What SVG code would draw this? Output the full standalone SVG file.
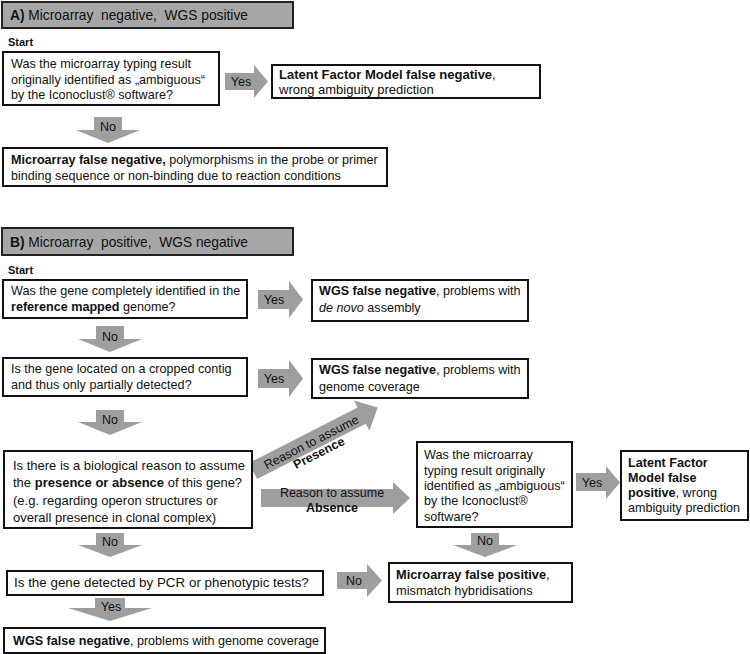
<svg xmlns="http://www.w3.org/2000/svg" width="750" height="654" viewBox="0 0 750 654">
<style>
.bg{fill:#fff}
.box{fill:#fff;stroke:#111;stroke-width:2}
.hdr{fill:#a6a6a6;stroke:#222;stroke-width:2}
.arr{fill:#9e9e9e}
text{font-family:"Liberation Sans",Arial,sans-serif;font-size:12.6px;fill:#111}
.h{font-size:15px;white-space:pre}
.s{font-size:11px;font-weight:bold}
.l{font-size:12.5px}
.m{font-size:13px}
.lg{font-size:13.4px}
.f{font-size:12.8px}
.c{text-anchor:middle}
.b{font-weight:bold}
</style>
<rect class="bg" x="0" y="0" width="750" height="654"/>

<g id="connectors">
  <path class="arr" d="M225,73H254V65L268,81.5L254,98V90H225Z"/>
  <path class="arr" d="M94,117H122V130H140L108,143L76,130H94Z"/>
  <path class="arr" d="M258,290H289V281L303,299.5L289,318V309H258Z"/>
  <path class="arr" d="M96,326H124V339H142L110,352L78,339H96Z"/>
  <path class="arr" d="M258,369H289V360L303,378.5L289,397V388H258Z"/>
  <path class="arr" d="M96,410H124V422H142L110,435L78,422H96Z"/>
  <path class="arr" d="M96,533H124V545H142L110,557L78,545H96Z"/>
  <path class="arr" d="M95,598H125V608H152L110,621L68,608H95Z"/>
  <path class="arr" d="M337,572H367V564L382,580.5L367,597V589H337Z"/>
  <path class="arr" d="M576,473H606V466L620,482.5L606,499V491H576Z"/>
  <path class="arr" d="M471,533H499V545H517L485,557L453,545H471Z"/>
  <path class="arr" d="M261,489H393V482L410,498L393,514V507H261Z"/>
  <g transform="translate(253,471) rotate(-27)">
    <path class="arr" d="M0,-9H122V-17L140,0L122,17V9H0Z"/>
    <text class="l c" x="65" y="5">Reason to assume</text>
    <text class="l c b" x="67" y="18">Presence</text>
  </g>
  <text class="l c" x="241" y="86">Yes</text>
  <text class="l c" x="108" y="131">No</text>
  <text class="l c" x="274" y="304">Yes</text>
  <text class="l c" x="110" y="341">No</text>
  <text class="l c" x="274" y="383">Yes</text>
  <text class="l c" x="110" y="424">No</text>
  <text class="l c" x="110" y="546">No</text>
  <text class="l c" x="111" y="611">Yes</text>
  <text class="l c" x="354" y="585">No</text>
  <text class="l c" x="592" y="487">Yes</text>
  <text class="l c" x="485" y="545">No</text>
  <text class="l c" x="332" y="497">Reason to assume</text>
  <text class="l c b" x="332" y="512">Absence</text>
</g>

<g id="headerA">
  <rect class="hdr" x="2" y="2" width="291" height="26"/>
  <text class="h" x="10" y="20" xml:space="preserve" textLength="238" lengthAdjust="spacingAndGlyphs"><tspan class="b">A)</tspan> Microarray  negative,  WGS positive</text>
</g>
<g id="startA"><text class="s" x="8" y="46">Start</text></g>
<g id="qA1">
  <rect class="box" x="3" y="52" width="216" height="53"/>
  <text x="11" y="68">Was the microarray typing result</text>
  <text x="11" y="83.5">originally identified as „ambiguous“</text>
  <text x="11" y="99">by the Iconoclust® software?</text>
</g>
<g id="rA1">
  <rect class="box" x="272" y="65" width="268" height="33"/>
  <text class="m" x="279" y="79"><tspan class="b">Latent Factor Model false negative</tspan>,</text>
  <text class="m" x="279" y="94">wrong ambiguity prediction</text>
</g>
<g id="rA2">
  <rect class="box" x="3" y="148" width="384" height="38"/>
  <text x="11" y="164"><tspan class="b">Microarray false negative,</tspan> polymorphisms in the probe or primer</text>
  <text x="11" y="180">binding sequence or non-binding due to reaction conditions</text>
</g>

<g id="headerB">
  <rect class="hdr" x="2" y="228" width="291" height="27"/>
  <text class="h" x="10" y="247" xml:space="preserve" textLength="238" lengthAdjust="spacingAndGlyphs"><tspan class="b">B)</tspan> Microarray  positive,  WGS negative</text>
</g>
<g id="startB"><text class="s" x="8" y="274">Start</text></g>
<g id="qB1">
  <rect class="box" x="3" y="280" width="244" height="38"/>
  <text x="11" y="295">Was the gene completely identified in the</text>
  <text x="11" y="311"><tspan class="b">reference mapped</tspan> genome?</text>
</g>
<g id="rB1">
  <rect class="box" x="312" y="280" width="216" height="41"/>
  <text x="319" y="295"><tspan class="b">WGS false negative</tspan>, problems with</text>
  <text x="319" y="312"><tspan font-style="italic">de novo</tspan> assembly</text>
</g>
<g id="qB2">
  <rect class="box" x="3" y="358" width="244" height="38"/>
  <text x="11" y="373">Is the gene located on a cropped contig</text>
  <text x="11" y="389">and thus only partially detected?</text>
</g>
<g id="rB2">
  <rect class="box" x="312" y="359" width="216" height="39"/>
  <text x="319" y="374"><tspan class="b">WGS false negative</tspan>, problems with</text>
  <text x="319" y="391">genome coverage</text>
</g>
<g id="qB3">
  <rect class="box" x="4" y="451" width="248" height="77"/>
  <text class="m" x="13" y="470">Is there is a biological reason to assume</text>
  <text class="m" x="13" y="487">the <tspan class="b">presence or absence</tspan> of this gene?</text>
  <text class="m" x="13" y="505">(e.g. regarding operon structures or</text>
  <text class="m" x="13" y="522">overall presence in clonal complex)</text>
</g>
<g id="qB4">
  <rect class="box" x="7" y="571" width="316" height="24"/>
  <text class="lg" x="14" y="587">Is the gene detected by PCR or phenotypic tests?</text>
</g>
<g id="rB4">
  <rect class="box" x="4" y="628" width="321" height="25"/>
  <text x="13" y="645"><tspan class="b">WGS false negative</tspan>, problems with genome coverage</text>
</g>
<g id="qB5">
  <rect class="box" x="417" y="442" width="155" height="85"/>
  <text x="424" y="459">Was the microarray</text>
  <text x="424" y="475">typing result originally</text>
  <text x="424" y="490">identified as „ambiguous“</text>
  <text x="424" y="505">by the Iconoclust®</text>
  <text x="424" y="521">software?</text>
</g>
<g id="rB5">
  <rect class="box" x="621" y="451" width="127" height="69"/>
  <text class="b" x="628" y="467">Latent Factor</text>
  <text class="b" x="628" y="482">Model false</text>
  <text x="628" y="497"><tspan class="b">positive</tspan>, wrong</text>
  <text x="628" y="512">ambiguity prediction</text>
</g>
<g id="rB6">
  <rect class="box" x="389" y="563" width="183" height="39"/>
  <text class="f" x="396" y="579"><tspan class="b">Microarray false positive</tspan>,</text>
  <text class="f" x="396" y="595">mismatch hybridisations</text>
</g>
</svg>
